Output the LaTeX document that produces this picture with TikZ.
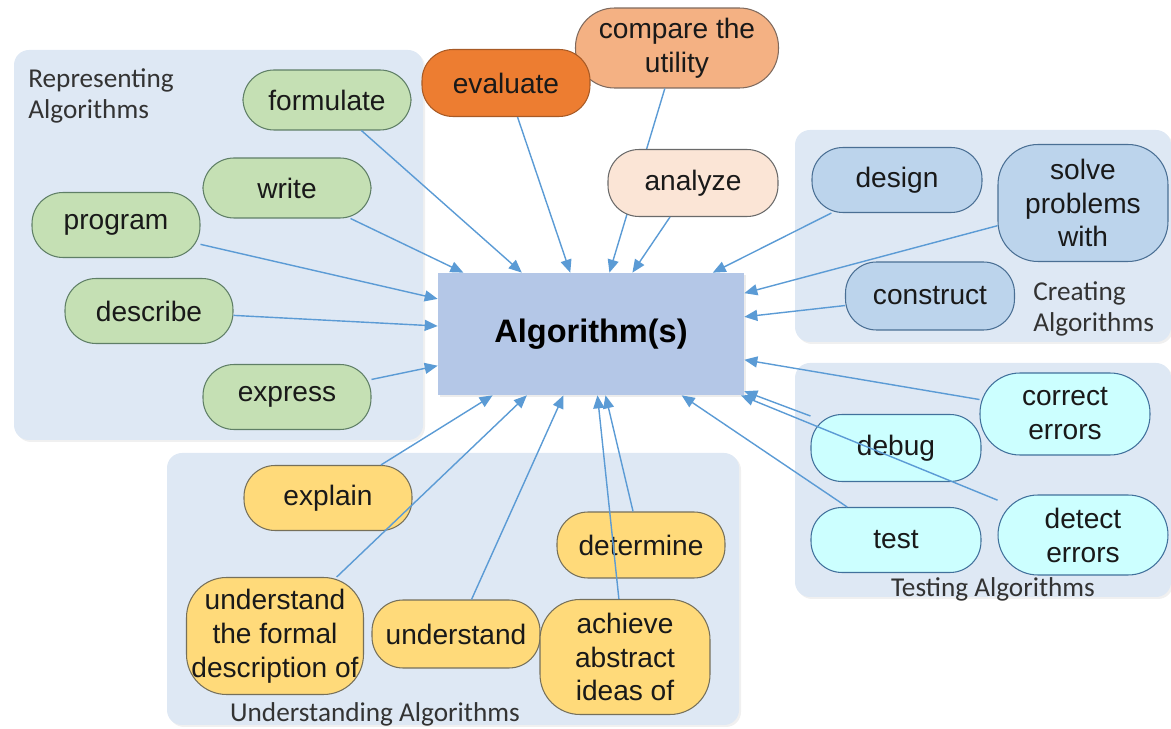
\documentclass[tikz,border=0pt]{standalone}
\usepackage{fontspec}
\setmainfont{Liberation Sans}
\newfontfamily\grpfont{Carlito}
\usepackage{tikz}
\usetikzlibrary{arrows.meta,shadows}
\definecolor{panelblue}{HTML}{DEE8F4}
\definecolor{boxblue}{HTML}{B4C7E7}
\definecolor{arrowblue}{HTML}{5B9BD5}
\definecolor{repfill}{HTML}{C5E0B4}
\definecolor{repline}{HTML}{5F7F66}
\definecolor{evalfill}{HTML}{ED7D31}
\definecolor{evalline}{HTML}{A85A25}
\definecolor{cmpfill}{HTML}{F4B183}
\definecolor{cmpline}{HTML}{7F6A5E}
\definecolor{anafill}{HTML}{FBE5D6}
\definecolor{anaUline}{HTML}{6A6A6A}
\definecolor{crefill}{HTML}{BCD4EC}
\definecolor{creline}{HTML}{4A6F94}
\definecolor{tstfill}{HTML}{CCFFFF}
\definecolor{tstline}{HTML}{41719C}
\definecolor{undfill}{HTML}{FFDA7A}
\definecolor{undline}{HTML}{76705A}

\begin{document}
\begin{tikzpicture}[x = 0.02cm, y = -0.02cm,
  panel/.style = {fill = panelblue, rounded corners = 0.3cm,
    drop shadow = {opacity = 0.12, shadow xshift = 0.04cm, shadow yshift = -0.04cm}},
  bub/.style = {draw, line width = 0.6pt, rounded corners = 0.62cm, align = center,
    inner sep = 0pt, minimum width = 3.36cm, minimum height = 1.3cm, text = black!90,
    font = \fontsize{16}{19.3}\selectfont},
  tall/.style = {rounded corners = 0.8cm},
  rep/.style = {bub, fill = repfill, draw = repline},
  cre/.style = {bub, fill = crefill, draw = creline},
  tst/.style = {bub, fill = tstfill, draw = tstline},
  und/.style = {bub, fill = undfill, draw = undline},
  grp/.style = {font = \grpfont\fontsize{15.5}{18}\selectfont, text = black!80,
    align = left, inner sep = 0pt},
  arr/.style = {draw = arrowblue, line width = 0.8pt,
    -{Triangle[length = 0.26cm, width = 0.22cm]}}]
\useasboundingbox (0,0) rectangle (1171,729);

\fill[panel] (14,50) rectangle (423,440);
\fill[panel] (795,130) rectangle (1171,342);
\fill[panel] (795,363) rectangle (1171,597);
\fill[panel] (167,453) rectangle (739,725);

\node[grp, anchor = west] (replabel) at (28,96) {Representing\\Algorithms};
\node[grp, anchor = west] (crelabel) at (1033,309) {Creating\\Algorithms};
\node[grp] (tstlabel) at (993,589) {Testing Algorithms};
\node[grp] (undlabel) at (375,714) {Understanding Algorithms};

\node[fill = boxblue, minimum width = 6.12cm, minimum height = 2.44cm,
  drop shadow = {opacity = 0.15, shadow xshift = 0.04cm, shadow yshift = -0.04cm},
  font = \bfseries\fontsize{18.5}{22}\selectfont] (alg) at (591,334) {Algorithm(s)};

\node[bub, fill = cmpfill, draw = cmpline, minimum width = 4.06cm, minimum height = 1.6cm,
  rounded corners = 0.78cm] (compare) at (677,48) {compare the\\utility};
\draw[arr] (compare) -- (alg);

\node[rep, minimum height = 1.2cm] (formulate) at (327,100) {formulate};
\node[rep, minimum height = 1.2cm] (write) at (287,188) {write};
\node[rep] (program) at (116,225) {program};
\node[rep] (describe) at (149,311) {describe};
\node[rep] (express) at (287,397) {express};

\node[bub, fill = evalfill, draw = evalline, minimum height = 1.34cm] (evaluate) at (506,83) {evaluate};
\node[bub, fill = anafill, draw = anaUline, minimum width = 3.4cm, minimum height = 1.34cm] (analyze) at (693,183) {analyze};

\node[cre, minimum width = 3.4cm] (design) at (897,180) {design};
\node[cre, tall, minimum width = 3.4cm, minimum height = 2.34cm] (solve) at (1083,203) {solve\\problems\\with};
\node[cre, minimum width = 3.38cm, minimum height = 1.36cm] (construct) at (930,296) {construct};

\node[tst, tall, minimum width = 3.4cm, minimum height = 1.64cm] (correct) at (1065,414) {correct\\errors};
\node[tst, minimum width = 3.4cm, minimum height = 1.34cm] (debug) at (896,448) {debug};
\node[tst, minimum width = 3.4cm] (test) at (896,540) {test};
\node[tst, tall, minimum width = 3.4cm, minimum height = 1.6cm] (detect) at (1083,535) {detect\\errors};

\node[und] (explain) at (328,498) {explain};
\node[und, minimum height = 1.32cm] (determine) at (641,545) {determine};
\node[und, tall, minimum width = 3.54cm, minimum height = 2.34cm] (formal) at (275,636) {understand\\the formal\\description of};
\node[und, minimum height = 1.36cm] (understand) at (456,634) {understand};
\node[und, tall, minimum width = 3.4cm, minimum height = 2.3cm] (achieve) at (625,657) {achieve\\abstract\\ideas of};

\foreach \n in {formulate, write, program, describe, express, evaluate, analyze,
  design, solve, construct, correct, debug, detect, test,
  explain, formal, understand, achieve, determine}
  \draw[arr] (\n) -- (alg);
\end{tikzpicture}
\end{document}
